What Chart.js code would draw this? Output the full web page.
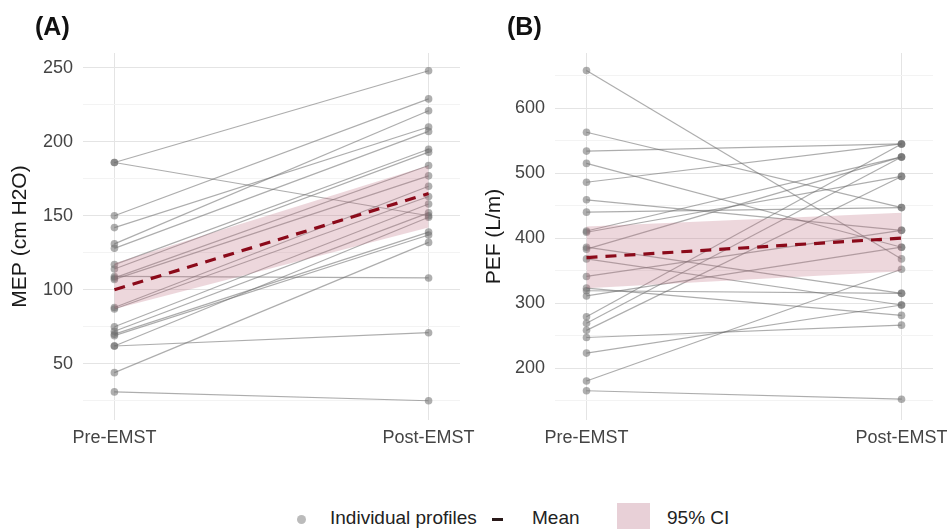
<!DOCTYPE html>
<html>
<head>
<meta charset="utf-8">
<script src="https://cdn.jsdelivr.net/npm/chart.js@4/dist/chart.umd.min.js"></script>
<style>
  body { margin: 0; background: #fff; font-family: "Liberation Sans", Arial, sans-serif; }
  #wrap { position: relative; width: 947px; height: 529px; overflow: hidden; }
  .panel { position: absolute; top: 0; }
  .tag { position: absolute; top: 12px; font-size: 25px; font-weight: bold; color: #111; }
  #legend { position: absolute; left: 0; top: 503px; width: 947px; height: 30px; font-size: 19px; color: #222; }
  #legend span { position: absolute; }
</style>
</head>
<body>
<div id="wrap">
  <div class="panel" style="left:0;width:500px;height:460px"><canvas id="chartA"></canvas></div>
  <div class="panel" style="left:470px;width:477px;height:460px"><canvas id="chartB"></canvas></div>
  <div class="tag" style="left:35px">(A)</div>
  <div class="tag" style="left:507px">(B)</div>
  <div id="legend">
    <span style="left:297px;top:12px;width:9px;height:9px;border-radius:50%;background:rgba(120,120,120,0.5)"></span>
    <span style="left:330px;top:4px">Individual profiles</span>
    <span style="left:492px;top:15px;width:11px;height:3px;background:#2a1a1a"></span>
    <span style="left:532px;top:4px">Mean</span>
    <span style="left:617px;top:0px;width:33px;height:30px;background:rgba(190,120,140,0.35)"></span>
    <span style="left:667px;top:4px">95% CI</span>
  </div>
</div>
<script>
// ----- data -----
const categories = ["Pre-EMST", "Post-EMST"];

// MEP (cm H2O), one value per subject
const mepPre  = [186, 186, 150, 142, 131, 128, 117, 114, 109, 108, 107, 88, 87, 75, 72, 70, 69, 62, 62, 44, 31];
const mepPost = [248, 150, 229, 210, 221, 207, 195, 193, 108, 184, 177, 170, 163, 158, 152, 139, 137, 149, 71, 132, 25];
const mepMean   = [100, 165];
const mepCiLow  = [87, 142];
const mepCiHigh = [118, 184];
const mepMajorTicks = [50, 100, 150, 200, 250];
const mepMinorTicks = [25, 75, 125, 175, 225];

// PEF (L/m)
const pefPre  = [658, 563, 534, 515, 486, 459, 440, 411, 409, 386, 383, 368, 341, 323, 319, 311, 279, 269, 258, 247, 223, 180, 165];
const pefPost = [368, 447, 545, 386, 545, 412, 447, 525, 495, 315, 525, 297, 412, 281, 315, 386, 545, 525, 495, 266, 297, 352, 152];
const pefMean   = [370, 400];
const pefCiLow  = [323, 349];
const pefCiHigh = [418, 439];
const pefMajorTicks = [200, 300, 400, 500, 600];
const pefMinorTicks = [150, 250, 350, 450, 550, 650];

// ----- chart -----
function pairPoints(a, b) {
  return [{ x: 0, y: a }, { x: 1, y: b }];
}

function makePanel(id, opts) {
  const datasets = [];

  // mean (drawn on top)
  datasets.push({
    data: pairPoints(opts.mean[0], opts.mean[1]),
    borderColor: "#8b0a1a",
    borderWidth: 3.2,
    borderDash: [11, 8],
    pointRadius: 0,
    order: 0
  });
  // 95% CI ribbon
  datasets.push({
    data: pairPoints(opts.ciHigh[0], opts.ciHigh[1]),
    borderWidth: 0,
    pointRadius: 0,
    fill: "+1",
    backgroundColor: "rgba(190,110,130,0.28)",
    order: 1
  });
  datasets.push({
    data: pairPoints(opts.ciLow[0], opts.ciLow[1]),
    borderWidth: 0,
    pointRadius: 0,
    order: 1
  });
  // individual profiles
  opts.pre.forEach((v, i) => {
    datasets.push({
      data: pairPoints(v, opts.post[i]),
      borderColor: "rgba(105,105,105,0.55)",
      borderWidth: 1.2,
      pointRadius: 3.8,
      pointBackgroundColor: "rgba(110,110,110,0.55)",
      pointBorderColor: "rgba(110,110,110,0.55)",
      pointBorderWidth: 0,
      order: 2
    });
  });

  const allTicks = opts.major.concat(opts.minor).sort((a, b) => a - b);

  return new Chart(document.getElementById(id), {
    type: "line",
    data: { datasets },
    options: {
      responsive: true,
      maintainAspectRatio: false,
      animation: false,
      events: [],
      layout: { padding: { top: 53, right: opts.padRight, bottom: 0, left: 0 } },
      plugins: { legend: { display: false }, tooltip: { enabled: false } },
      scales: {
        x: {
          type: "linear",
          min: -0.1,
          max: 1.1,
          afterBuildTicks: s => { s.ticks = [{ value: 0 }, { value: 1 }]; },
          afterFit: s => { s.height = 40; s.paddingLeft = 0; s.paddingRight = 0; },
          border: { display: false },
          grid: { color: "#e4e4e4", lineWidth: 1, drawTicks: false },
          ticks: {
            padding: 7,
            color: "#444",
            font: { size: 18, family: "Liberation Sans" },
            callback: v => categories[v]
          }
        },
        y: {
          min: opts.min,
          max: opts.max,
          afterBuildTicks: s => { s.ticks = allTicks.map(v => ({ value: v })); },
          afterFit: s => { s.width = opts.axisWidth; s.paddingTop = 0; s.paddingBottom = 0; },
          border: { display: false },
          grid: {
            drawTicks: false,
            color: c => opts.major.includes(c.tick.value) ? "#e4e4e4" : "#f3f3f3",
            lineWidth: 1
          },
          ticks: {
            padding: 10,
            color: "#444",
            font: { size: 18, family: "Liberation Sans" },
            callback: v => opts.major.includes(v) ? v : ""
          },
          title: {
            display: true,
            text: opts.title,
            color: "#1a1a1a",
            font: { size: 21, family: "Liberation Sans" },
            padding: { top: opts.titlePad, bottom: 0 }
          }
        }
      }
    }
  });
}

makePanel("chartA", {
  pre: mepPre, post: mepPost, mean: mepMean, ciLow: mepCiLow, ciHigh: mepCiHigh,
  major: mepMajorTicks, minor: mepMinorTicks,
  min: 12, max: 260, axisWidth: 83, padRight: 40, titlePad: 8,
  title: "MEP (cm H2O)"
});

makePanel("chartB", {
  pre: pefPre, post: pefPost, mean: pefMean, ciLow: pefCiLow, ciHigh: pefCiHigh,
  major: pefMajorTicks, minor: pefMinorTicks,
  min: 120, max: 685, axisWidth: 85, padRight: 14, titlePad: 12,
  title: "PEF (L/m)"
});
</script>
</body>
</html>
